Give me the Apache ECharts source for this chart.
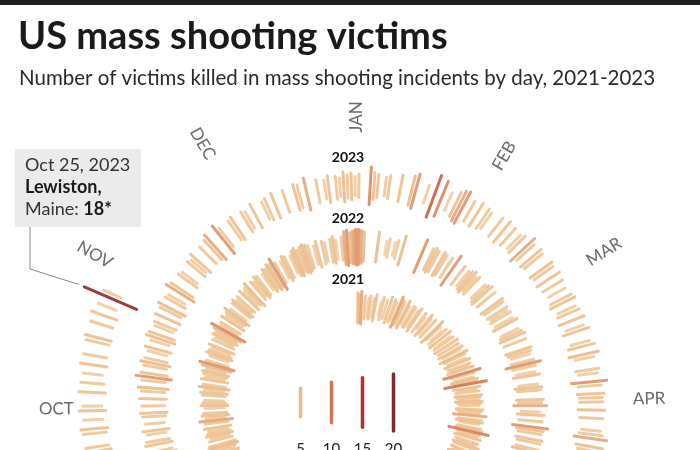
<!DOCTYPE html>
<html><head><meta charset="utf-8">
<script src="https://cdn.jsdelivr.net/npm/echarts@6/dist/echarts.min.js"></script>
<style>html,body{margin:0;padding:0;background:#fff}#c{width:700px;height:450px}</style>
</head><body><div id="c"></div>
<script>
// ---- data: victims killed per day (0 = no line) ----
const yearLabels = ['2021', '2022', '2023'];
const monthNames = ['JAN','FEB','MAR','APR','MAY','JUN','JUL','AUG','SEP','OCT','NOV','DEC'];
const monthStartDay = [0,31,59,90,120,151,181,212,243,273,304,334];

const k2021Jan = [5,4,6,0,3,0,2,3,0,2, 4,0,0,1,3,0,2,0,4,0, 3,2,0,6,4,3,0,5,2,0, 3];
const k2021Feb = [3,0,2,4,0,0,3,1,0,4, 2,0,3,0,0,5,2,0,1,3, 0,4,0,2,3,0,4,0];
const k2021Mar = [3,0,4,2,0,5,3,0,2,4, 0,3,2,4,0,8,3,0,2,4, 3,10,0,4,2,3,0,4,3,2, 4];
const k2021Apr = [3,2,0,4,3,2,6,0,3,4, 2,0,3,4,9,3,2,4,0,3, 2,4,3,0,4,2,3,5,2,3];
const k2021Sep = [3,4,0,2,5,3,4,2,0,3, 4,2,3,5,4,0,3,2,4,3, 2,4,0,3,6,2,4,3,0,2];
const k2021Oct = [4,3,2,0,3,4,2,5,3,0, 4,2,3,4,2,5,7,3,0,2, 4,3,2,4,0,3,2,4,3,5, 8];
const k2021Nov = [2,3,0,4,2,3,5,2,0,3, 4,2,3,0,4,2,3,5,0,3, 2,4,3,0,2,4,3,5,4,7];
const k2021Dec = [3,0,2,4,3,0,2,4,5,3, 4,5,4,3,0,2,4,0,3,2, 0,3,4,2,0,3,6,7,5,6, 7];

const k2022Jan = [7,6,5,0,0,0,0,5,0,0, 1,2,0,1,2,0,5,0,0,0, 0,0,0,7,0,0,3,4,3,0, 4];
const k2022Feb = [3,0,3,0,7,0,0,3,0,2, 3,4,2,3,0,0,2,3,4,0, 3,0,0,4,3,0,3,2];
const k2022Mar = [3,0,2,4,0,0,2,3,4,0, 3,0,0,4,3,2,0,3,7,3, 0,2,4,0,0,2,4,3,0,0, 4];
const k2022Apr = [3,6,0,2,4,0,3,0,7,4, 3,0,4,3,0,3,5,0,2,3, 4,0,3,2,0,3,5,2,0,4];
const k2022Sep = [3,0,2,0,4,3,0,5,3,0, 0,3,2,4,0,0,5,3,0,4, 3,0,2,4,0,2,0,3,4,0];
const k2022Oct = [3,0,4,0,3,5,0,3,7,4, 0,3,5,3,0,2,4,0,2,5, 4,0,2,3,0,4,0,3,5,0, 3];
const k2022Nov = [2,0,6,4,0,0,3,2,0,0, 3,2,4,0,0,3,0,4,6,0, 0,7,3,0,0,3,4,0,0,3];
const k2022Dec = [2,0,4,0,0,2,3,0,4,0, 0,3,0,0,4,3,0,6,0,0, 3,0,2,4,0,3,2,5,3,4, 2];

const k2023Jan = [3,0,0,8,4,3,0,2,3,0, 0,4,0,0,5,7,0,0,2,0, 11,0,8,0,2,0,4,6,7,0, 3];
const k2023Feb = [0,4,0,3,2,0,0,3,0,4, 0,3,0,2,3,0,6,3,0,4, 3,0,0,4,3,0,4,0];
const k2023Mar = [3,0,2,0,3,4,0,2,3,0, 4,0,2,4,0,0,2,4,0,5, 2,0,0,3,2,0,7,3,0,4, 3];
const k2023Apr = [3,0,4,0,3,0,0,2,3,6, 0,4,3,0,5,0,2,3,0,0, 3,0,4,3,0,5,3,0,4,0];
const k2023Sep = [3,0,4,0,3,0,4,3,0,0, 4,0,2,0,3,0,2,3,0,0, 4,3,0,0,3,4,0,2,0,4];
const k2023Oct = [2,0,0,4,0,3,0,2,0,4, 0,3,0,0,3,4,0,0,3,0, 4,0,2,0,18,2];

const legendValues = [5, 10, 15, 20];
const noteYear = 2, noteDay = 297, noteValue = 18;

// ---- assemble ----
const monthSeries = [
  [0,0,k2021Jan],[0,1,k2021Feb],[0,2,k2021Mar],[0,3,k2021Apr],[0,8,k2021Sep],[0,9,k2021Oct],[0,10,k2021Nov],[0,11,k2021Dec],
  [1,0,k2022Jan],[1,1,k2022Feb],[1,2,k2022Mar],[1,3,k2022Apr],[1,8,k2022Sep],[1,9,k2022Oct],[1,10,k2022Nov],[1,11,k2022Dec],
  [2,0,k2023Jan],[2,1,k2023Feb],[2,2,k2023Mar],[2,3,k2023Apr],[2,8,k2023Sep],[2,9,k2023Oct]
];
const spiralData = [];
monthSeries.forEach(([y, m, arr]) => arr.forEach((v, i) => { if (v > 0) spiralData.push([y, monthStartDay[m] + i, v]); }));
spiralData.sort((a, b) => a[2] - b[2]);

const R0 = 97, K = 61, LEN = 6.7, FONT = 'Lato, "Source Sans Pro", sans-serif';
const stops = [[1,'#f3d1a6'],[4,'#edbf8f'],[5,'#e9bb8b'],[7,'#df956a'],[10,'#cf7854'],[12,'#c45040'],[15,'#b52f30'],[20,'#7b2a30']];
function rgb(h){ return [1,3,5].map(i => parseInt(h.substr(i,2),16)); }
function colorFor(v){
  if (v <= stops[0][0]) return stops[0][1];
  for (let i = 1; i < stops.length; i++) {
    if (v <= stops[i][0]) {
      const t = (v - stops[i-1][0]) / (stops[i][0] - stops[i-1][0]);
      const a = rgb(stops[i-1][1]), b = rgb(stops[i][1]);
      return 'rgb(' + a.map((c, j) => Math.round(c + (b[j]-c)*t)).join(',') + ')';
    }
  }
  return stops[stops.length-1][1];
}
function baseR(y, d){ return R0 + K * (y + d / 365); }
function halfLen(v){ return LEN * Math.sqrt(v); }

const chart = echarts.init(document.getElementById('c'));
chart.setOption({
  animation: false,
  title: [
    {text: 'US mass shooting victims', left: 13, top: 13, textStyle: {fontFamily: FONT, fontWeight: 'bold', fontSize: 38, color: '#1a1a1a'}},
    {text: 'Number of victims killed in mass shooting incidents by day, 2021-2023', left: 14, top: 63, textStyle: {fontFamily: FONT, fontWeight: 'normal', fontSize: 20.5, color: '#2a2a2a'}}
  ],
  polar: {center: [357, 405], radius: 320},
  radiusAxis: {type: 'value', min: 0, max: 320, show: false},
  angleAxis: {type: 'value', min: 0, max: 365, startAngle: 90, clockwise: true, show: false},
  grid: {left: 285, width: 124, top: 355, height: 100},
  xAxis: {type: 'category', data: legendValues.map(String), show: false},
  yAxis: {type: 'value', min: -50, max: 50, show: false},
  graphic: [
    {type: 'rect', left: 0, top: 0, shape: {width: 700, height: 5}, style: {fill: '#231f20'}},
    {type: 'rect', left: 15, top: 149, shape: {width: 126, height: 78}, style: {fill: '#ebebeb'}},
    {type: 'text', left: 25, top: 156, style: {
      text: '{a|Oct 25, 2023}\n{b|Lewiston,}\n{a|Maine: }{b|18*}',
      rich: {
        a: {fontFamily: FONT, fontSize: 18, fill: '#333', color: '#333', lineHeight: 22},
        b: {fontFamily: FONT, fontSize: 18, fontWeight: 'bold', fill: '#1a1a1a', color: '#1a1a1a', lineHeight: 22}
      }}}
  ],
  series: [
    {
      type: 'custom', coordinateSystem: 'polar', data: spiralData, silent: true,
      renderItem: function (params, api) {
        const y = api.value(0), d = api.value(1) + 0.5, v = api.value(2);
        const b = baseR(y, d), h = halfLen(v);
        const p1 = api.coord([b - h, d]), p2 = api.coord([b + h, d]);
        return {type: 'line', shape: {x1: p1[0], y1: p1[1], x2: p2[0], y2: p2[1]},
          style: {stroke: colorFor(v), lineWidth: 3, lineCap: 'round', opacity: 0.92}};
      }
    },
    {
      type: 'custom', coordinateSystem: 'polar', silent: true,
      data: monthNames.map((m, i) => [i, monthStartDay[i]]),
      renderItem: function (params, api) {
        const i = api.value(0), d = api.value(1);
        const theta = d / 365 * 360;
        const r = 288 + 17 * d / 365;
        const p = api.coord([r, d]);
        const phi = theta <= 180 ? 90 - theta : 270 - theta;
        return {type: 'text', x: p[0], y: p[1], rotation: phi * Math.PI / 180,
          style: {text: monthNames[i], fill: '#6a6a6a', font: '17px ' + FONT, align: 'center', verticalAlign: 'middle'}};
      }
    },
    {
      type: 'custom', coordinateSystem: 'polar', silent: true,
      data: yearLabels.map((t, i) => [i, 0]),
      renderItem: function (params, api) {
        const i = api.value(0);
        const p = api.coord([baseR(i, 0) + 29, 0]);
        return {type: 'text', x: p[0] - 9, y: p[1],
          style: {text: yearLabels[i], fill: '#111', font: 'bold 14px ' + FONT, align: 'center', verticalAlign: 'middle'}};
      }
    },
    {
      type: 'custom', coordinateSystem: 'polar', silent: true,
      data: [[noteYear, noteDay, noteValue]],
      renderItem: function (params, api) {
        const y = api.value(0), d = api.value(1) + 0.5, v = api.value(2);
        const p = api.coord([baseR(y, d) + halfLen(v) + 6, d]);
        return {type: 'polyline', shape: {points: [[30, 227], [30, 269], p]},
          style: {stroke: '#888', lineWidth: 1, fill: null}};
      }
    },
    {
      type: 'custom', coordinateSystem: 'cartesian2d', silent: true,
      data: legendValues.map((v, i) => [i, v]),
      renderItem: function (params, api) {
        const i = api.value(0), v = api.value(1), h = halfLen(v);
        const a = api.coord([i, h]), b = api.coord([i, -h]), t = api.coord([i, -49]);
        return {type: 'group', children: [
          {type: 'line', shape: {x1: a[0], y1: a[1], x2: b[0], y2: b[1]},
            style: {stroke: colorFor(v), lineWidth: 3.5, lineCap: 'round'}},
          {type: 'text', x: t[0], y: t[1], style: {text: String(v), fill: '#222', font: '15px ' + FONT, align: 'center', verticalAlign: 'middle'}}
        ]};
      }
    }
  ]
});
</script></body></html>
